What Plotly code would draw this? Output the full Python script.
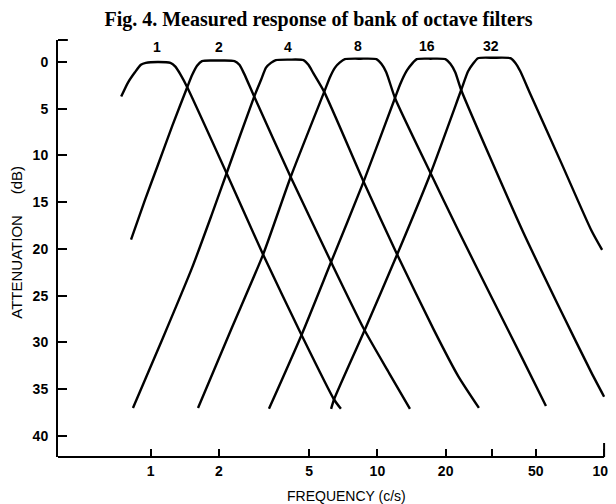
import numpy as np
import plotly.graph_objects as go

# ---------------- data ----------------
title_text = "Fig. 4. Measured response of bank of octave filters"
x_title = "FREQUENCY (c/s)"
y_title = "ATTENUATION\u00a0\u00a0\u00a0\u00a0\u00a0(dB)"

filter_names = ["1", "2", "4", "8", "16", "32"]

# Filter 1
freq_1 = [0.741, 0.794, 0.852, 0.905, 0.951, 1.073, 1.222, 1.285, 1.350, 1.449,
          2.162, 3.131, 4.628, 6.438, 6.904]
atten_1 = [3.7, 2.2, 1.1, 0.3, 0.1, 0.0, 0.1, 0.5, 1.3, 2.7,
           11.9, 20.6, 29.2, 36.1, 37.1]

# Filter 2
freq_2 = [0.819, 0.942, 1.073, 1.246, 1.449, 1.523, 1.601, 1.683, 1.975, 2.342,
          2.462, 2.588, 2.861, 4.144, 6.248, 8.781, 11.28, 13.92]
atten_2 = [19.0, 14.8, 11.1, 6.8, 2.7, 1.4, 0.4, -0.1, -0.15, -0.1,
           0.3, 1.3, 3.7, 12.3, 21.4, 28.7, 33.3, 37.1]

# Filter 4
freq_4 = [0.835, 1.128, 1.523, 1.861, 2.162, 2.861, 3.069, 3.226, 3.391,
          3.566, 4.103, 4.721, 4.963, 5.216, 5.825, 8.694, 12.22, 17.70, 22.72, 28.04]
atten_4 = [37.0, 29.6, 22.0, 16.3, 11.9, 3.7, 1.9, 0.6, 0.1,
           -0.2, -0.25, -0.2, 0.3, 1.2, 3.2, 12.8, 20.6, 28.6, 33.6, 37.0]

# Filter 8
freq_8 = [1.617, 2.273, 3.131, 4.144, 5.825, 6.184, 6.503, 6.835, 7.186, 8.437,
          9.900, 10.41, 10.94, 11.98, 17.17, 22.72, 32.26, 43.57, 55.40]
atten_8 = [37.0, 28.5, 20.6, 12.3, 3.2, 1.6, 0.6, 0.05, -0.3, -0.35,
           -0.3, 0.2, 1.1, 3.9, 11.9, 18.0, 25.4, 31.7, 36.8]

# Filter 16
freq_16 = [3.324, 4.628, 6.248, 8.694, 11.98, 12.59, 13.50, 14.20, 14.92, 17.17,
           19.95, 20.98, 22.05, 23.42, 43.57, 65.03, 87.81, 100.0]
atten_16 = [37.1, 29.2, 21.4, 12.8, 3.8, 2.4, 0.9, 0.2, -0.3, -0.35,
            -0.3, 0.2, 1.1, 3.0, 18.0, 26.8, 33.2, 35.8]

# Filter 32
freq_32 = [6.248, 6.438, 8.781, 12.22, 17.17, 23.42, 25.12, 26.41, 27.77, 32.59,
           38.64, 40.62, 42.70, 47.21, 65.03, 87.81, 98.01]
atten_32 = [37.1, 36.1, 28.7, 20.6, 11.9, 3.0, 1.0, 0.2, -0.4, -0.45,
            -0.4, 0.1, 1.0, 3.4, 10.9, 18.0, 20.1]

label_freq = [1.07, 2.0, 4.02, 8.2, 16.5, 31.6]
label_atten = [-1.6, -1.6, -1.6, -1.7, -1.7, -1.7]

x_tickvals = [1, 2, 5, 10, 20, 32, 50, 100]
x_ticktext = ["1", "2", "5", "10", "20", "", "50", "100"]
y_tickvals = [0, 5, 10, 15, 20, 25, 30, 35, 40]
y_ticktext = ["0", "5", "10", "15", "20", "25", "30", "35", "40"]

# ---------------- figure ----------------
freqs = [freq_1, freq_2, freq_4, freq_8, freq_16, freq_32]
attens = [atten_1, atten_2, atten_4, atten_8, atten_16, atten_32]

# the page body adds an 8px offset; the figure is sized to fill the window
OFF = 8
W, H = 616 - OFF, 504 - OFF
ML, MR, MT, MB = 58 - OFF, 0, 40 - OFF, H - (457 - OFF)
x_range = [np.log10(0.39), np.log10(103.0)]
y_range = [42.25, -2.35]

sans = "Liberation Sans, Arial, Helvetica, sans-serif"
serif = "Liberation Serif, Times New Roman, serif"

fig = go.Figure()
for name, f, a in zip(filter_names, freqs, attens):
    fig.add_trace(go.Scatter(
        x=f, y=a, mode="lines", name=name,
        line=dict(color="black", width=2.4, shape="spline", smoothing=0.6),
        hoverinfo="skip", showlegend=False,
    ))

annotations = []
for name, lf, la in zip(filter_names, label_freq, label_atten):
    annotations.append(dict(
        x=np.log10(lf), y=la, xref="x", yref="y", text=name, showarrow=False,
        font=dict(family=sans, size=14, color="black", weight="bold"),
        xanchor="center", yanchor="middle",
    ))

plot_w = W - ML - MR
plot_h = H - MT - MB


def px_to_paper(px, py):
    """reference-pixel position -> paper coordinates of this figure"""
    fx, fy = px - OFF, py - OFF
    return (fx - ML) / plot_w, (H - MB - fy) / plot_h


yt_x, yt_y = px_to_paper(15, 242)
annotations.append(dict(
    x=yt_x, y=yt_y, xref="paper", yref="paper",
    text=y_title, textangle=-90, showarrow=False,
    font=dict(family=sans, size=15, color="black"),
    xanchor="center", yanchor="middle",
))
xt_x, xt_y = px_to_paper(351, 496)
annotations.append(dict(
    x=xt_x, y=xt_y, xref="paper", yref="paper",
    text=x_title, showarrow=False,
    font=dict(family=sans, size=14, color="black"),
    xanchor="center", yanchor="middle",
))

x100_paper = (np.log10(100) - x_range[0]) / (x_range[1] - x_range[0])
shapes = [
    dict(type="line", xref="paper", yref="paper", x0=0, x1=x100_paper, y0=0, y1=0,
         line=dict(color="black", width=2)),
    dict(type="line", xref="paper", yref="paper", x0=x100_paper, x1=x100_paper,
         y0=0, y1=14 / plot_h, line=dict(color="black", width=2)),
    dict(type="line", xref="paper", yref="paper", x0=0, x1=10 / plot_w,
         y0=1, y1=1, line=dict(color="black", width=2)),
]

fig.update_layout(
    width=W, height=H,
    margin=dict(l=ML, r=MR, t=MT, b=MB, pad=0),
    paper_bgcolor="white", plot_bgcolor="white",
    title=dict(text=title_text, x=(318.5 - OFF) / W, xanchor="center", xref="container",
               y=1 - (19 - OFF) / H, yanchor="middle",
               font=dict(family=serif, size=20, color="black", weight="bold")),
    xaxis=dict(
        type="log", range=x_range, tickmode="array", tickvals=x_tickvals, ticktext=x_ticktext,
        ticks="inside", ticklen=8, tickwidth=2, tickcolor="black",
        showline=False, showgrid=False, zeroline=False,
        tickfont=dict(family=sans, size=14, color="black", weight="bold"),
        ticklabelstandoff=4, ticklabeloverflow="allow",
    ),
    yaxis=dict(
        range=y_range, tickmode="array", tickvals=y_tickvals, ticktext=y_ticktext,
        ticks="inside", ticklen=9, tickwidth=2, tickcolor="black",
        showline=True, linewidth=2, linecolor="black",
        showgrid=False, zeroline=False,
        tickfont=dict(family=sans, size=14, color="black", weight="bold"),
        ticklabelstandoff=5,
    ),
    annotations=annotations,
    shapes=shapes,
    showlegend=False,
)

fig.write_html("out.html")
